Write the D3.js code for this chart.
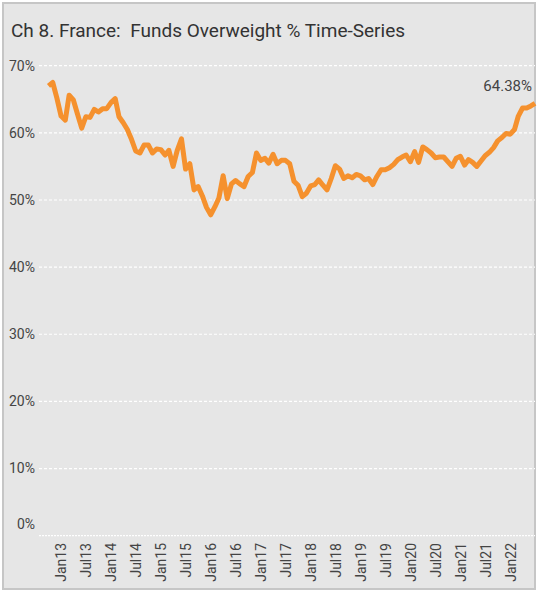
<!DOCTYPE html>
<html>
<head>
<meta charset="utf-8">
<script src="https://cdn.jsdelivr.net/npm/d3@7"></script>
<style>
  body { margin: 0; background: #ffffff; }
  svg { display: block; font-family: Roboto, "Noto Sans", sans-serif; }
</style>
</head>
<body>
<div id="chart"></div>
<script>
// Funds overweight France, monthly, Oct 2012 .. Jul 2022
const firstMonth = new Date(2012, 9, 1);
const overweight = [
  67.0, 67.5, 65.2, 62.5, 61.9, 65.6, 64.9, 62.8, 60.7, 62.4,
  62.3, 63.5, 63.1, 63.6, 63.6, 64.5, 65.1, 62.4, 61.5, 60.5,
  59.0, 57.3, 57.0, 58.2, 58.2, 57.0, 57.6, 57.5, 56.7, 57.4,
  55.0, 57.4, 59.1, 54.6, 55.4, 51.5, 52.0, 50.6, 48.9, 47.8,
  49.0, 50.3, 53.6, 50.2, 52.4, 52.9, 52.4, 52.0, 53.5, 54.1,
  57.0, 55.9, 56.2, 55.5, 56.8, 55.4, 55.9, 55.9, 55.4, 52.8,
  52.2, 50.5, 51.0, 52.1, 52.3, 53.0, 52.2, 51.5, 53.2, 55.1,
  54.6, 53.2, 53.6, 53.3, 53.8, 53.6, 53.0, 53.2, 52.3, 53.5,
  54.5, 54.5, 54.8, 55.3, 56.0, 56.4, 56.7, 55.7, 57.2, 55.6,
  57.9, 57.5, 57.0, 56.3, 56.4, 56.4, 55.7, 55.0, 56.2, 56.5,
  55.2, 56.0, 55.6, 55.0, 55.8, 56.6, 57.1, 57.8, 58.8, 59.3,
  59.9, 59.8, 60.5, 62.5, 63.7, 63.7, 64.0, 64.38
];
const yTicks = [0, 10, 20, 30, 40, 50, 60, 70];
const xTickLabels = ["Jan13", "Jul13", "Jan14", "Jul14", "Jan15", "Jul15", "Jan16", "Jul16",
  "Jan17", "Jul17", "Jan18", "Jul18", "Jan19", "Jul19", "Jan20", "Jul20", "Jan21", "Jul21", "Jan22"];
const title = "Ch 8. France:  Funds Overweight % Time-Series";
const lastLabel = "64.38%";

const width = 538, height = 591;
const parseTick = d3.timeParse("%b%y");
const fmtTick = d3.timeFormat("%b%y");

const data = overweight.map((v, i) => ({ date: d3.timeMonth.offset(firstMonth, i), value: v }));

const svg = d3.select("#chart").append("svg")
  .attr("width", width)
  .attr("height", height);

// panel
svg.append("rect")
  .attr("x", 3).attr("y", 3)
  .attr("width", 532).attr("height", 586)
  .attr("fill", "#e6e6e6")
  .attr("stroke", "#c6c6c6")
  .attr("stroke-width", 2);

svg.append("text")
  .attr("x", 11).attr("y", 37)
  .attr("font-size", 19)
  .attr("fill", "#333")
  .style("white-space", "pre")
  .text(title);

const x = d3.scaleTime()
  .domain([data[0].date, data[data.length - 1].date])
  .range([48.5, 535]);

const y = d3.scaleLinear()
  .domain([0, 70])
  .range([535.7, 65.7]);

// grid
const grid = svg.append("g");
grid.selectAll("line")
  .data(yTicks)
  .join("line")
  .attr("x1", 39).attr("x2", 535)
  .attr("y1", d => y(d)).attr("y2", d => y(d))
  .attr("stroke", "#ffffff")
  .attr("stroke-width", 1.2)
  .attr("stroke-dasharray", d => d === 0 ? "2,1" : "3,2");

// y labels
svg.append("g").selectAll("text")
  .data(yTicks)
  .join("text")
  .attr("x", 35)
  .attr("y", d => d === 0 ? y(d) - 12 : y(d))
  .attr("dy", "0.35em")
  .attr("text-anchor", "end")
  .attr("font-size", 14)
  .attr("fill", "#444")
  .text(d => d + "%");

// x axis
const xAxis = d3.axisBottom(x)
  .tickValues(xTickLabels.map(parseTick))
  .tickFormat(fmtTick)
  .tickSize(0);

const xg = svg.append("g")
  .attr("transform", `translate(0,${543})`)
  .call(xAxis);
xg.select(".domain").remove();
xg.selectAll("text")
  .attr("transform", "rotate(-90)")
  .attr("x", 0).attr("y", 0)
  .attr("dy", "0.35em")
  .attr("text-anchor", "end")
  .attr("font-family", "Roboto, sans-serif")
  .attr("font-size", 14)
  .attr("fill", "#444");

// line
const line = d3.line()
  .x(d => x(d.date))
  .y(d => y(d.value));

svg.append("path")
  .datum(data)
  .attr("fill", "none")
  .attr("stroke", "#f5912e")
  .attr("stroke-width", 5)
  .attr("stroke-linejoin", "round")
  .attr("d", line);

svg.append("text")
  .attr("x", 532).attr("y", 91)
  .attr("text-anchor", "end")
  .attr("font-size", 15)
  .attr("fill", "#444")
  .text(lastLabel);
</script>
</body>
</html>
